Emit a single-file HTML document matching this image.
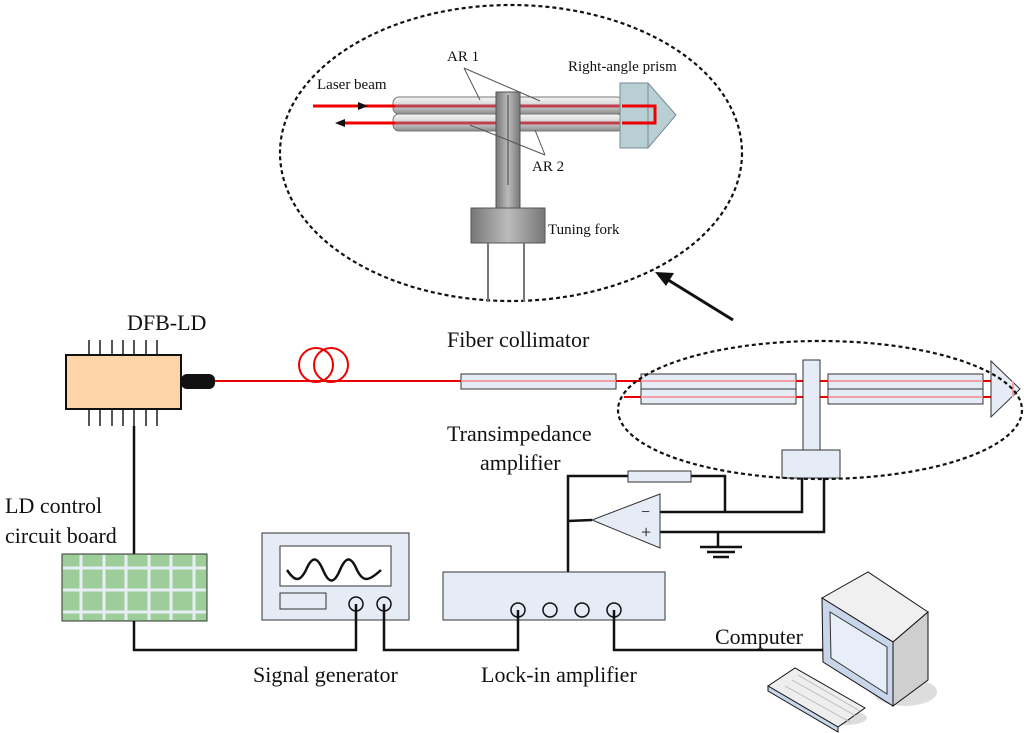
<!DOCTYPE html>
<html><head><meta charset="utf-8"><style>
html,body{margin:0;padding:0;background:#fff;}
svg{display:block;}
text{font-family:"Liberation Serif",serif;fill:#111;}
</style></head><body>
<svg width="1024" height="733" viewBox="0 0 1024 733" xmlns="http://www.w3.org/2000/svg">
<defs>
<linearGradient id="tg" x1="0" y1="0" x2="0" y2="1"><stop offset="0" stop-color="#f6f6f6"/><stop offset="0.5" stop-color="#d4d4d4"/><stop offset="1" stop-color="#8a8a8a"/></linearGradient>
<linearGradient id="fg" x1="0" y1="0" x2="1" y2="0"><stop offset="0" stop-color="#777"/><stop offset="0.5" stop-color="#bbb"/><stop offset="1" stop-color="#777"/></linearGradient>
</defs>
<ellipse cx="511" cy="153" rx="231" ry="148" fill="none" stroke="#111" stroke-width="2.2" stroke-dasharray="4,3"/>
<line x1="733" y1="320" x2="665" y2="278" stroke="#111" stroke-width="3"/>
<polygon points="655,272 674,273 666,286" fill="#111"/>
<rect x="393" y="97" width="230" height="17" rx="6" fill="url(#tg)" stroke="#777"/>
<rect x="393" y="114" width="230" height="17" rx="6" fill="url(#tg)" stroke="#777"/>
<line x1="395" y1="106" x2="622" y2="106" stroke="#c04050" stroke-width="3"/>
<line x1="395" y1="123" x2="622" y2="123" stroke="#c04050" stroke-width="3"/>
<line x1="313" y1="106" x2="395" y2="106" stroke="#e00" stroke-width="3"/>
<line x1="338" y1="123" x2="395" y2="123" stroke="#e00" stroke-width="3"/>
<polygon points="358,102 368,106 358,110" fill="#111"/>
<polygon points="345,119 335,123 345,127" fill="#111"/>
<rect x="496" y="92" width="24" height="120" fill="url(#fg)" stroke="#555"/>
<line x1="508" y1="95" x2="508" y2="185" stroke="#444"/>
<rect x="471" y="208" width="74" height="35" fill="url(#fg)" stroke="#555"/>
<line x1="488" y1="243" x2="488" y2="302" stroke="#777" stroke-width="2"/>
<line x1="524" y1="243" x2="524" y2="302" stroke="#777" stroke-width="2"/>
<polygon points="620,83 648,83 676,115 648,148 620,148" fill="#b8d0d4" stroke="#789"/>
<line x1="648" y1="83" x2="648" y2="148" stroke="#789"/>
<polyline points="622,106 655,106 655,123 622,123" fill="none" stroke="#e00" stroke-width="3"/>
<line x1="464" y1="68" x2="480" y2="100" stroke="#555"/>
<line x1="464" y1="68" x2="540" y2="101" stroke="#555"/>
<line x1="470" y1="125" x2="545" y2="155" stroke="#555"/>
<line x1="535" y1="130" x2="545" y2="155" stroke="#555"/>
<text x="317" y="89" font-size="15">Laser beam</text>
<text x="447" y="61" font-size="15">AR 1</text>
<text x="532" y="171" font-size="15">AR 2</text>
<text x="568" y="71" font-size="15">Right-angle prism</text>
<text x="548" y="234" font-size="15">Tuning fork</text>
<text x="127" y="330" font-size="22">DFB-LD</text>
<g stroke="#555" stroke-width="2">
<line x1="89" y1="340" x2="89" y2="426"/><line x1="100" y1="340" x2="100" y2="426"/><line x1="112" y1="340" x2="112" y2="426"/><line x1="123" y1="340" x2="123" y2="426"/><line x1="134" y1="340" x2="134" y2="426"/><line x1="146" y1="340" x2="146" y2="426"/><line x1="157" y1="340" x2="157" y2="426"/>
</g>
<rect x="66" y="355" width="115" height="54" fill="#fdd5a8" stroke="#111" stroke-width="2"/>
<rect x="181" y="374" width="34" height="15" rx="6" fill="#111"/>
<line x1="215" y1="381" x2="461" y2="381" stroke="#e00" stroke-width="2"/>
<circle cx="316" cy="365" r="17" fill="none" stroke="#e00" stroke-width="2"/>
<circle cx="331" cy="365" r="17" fill="none" stroke="#e00" stroke-width="2"/>
<line x1="134" y1="426" x2="134" y2="555" stroke="#111" stroke-width="2.5"/>
<text x="447" y="347" font-size="22">Fiber collimator</text>
<rect x="461" y="374" width="155" height="15" fill="#e6ecf6" stroke="#333"/>
<line x1="461" y1="381" x2="616" y2="381" stroke="#f3a0a8" stroke-width="2"/>
<line x1="616" y1="381" x2="642" y2="381" stroke="#e00" stroke-width="2"/>
<line x1="624" y1="397" x2="642" y2="397" stroke="#e00" stroke-width="2"/>
<rect x="641" y="374" width="155" height="15" fill="#e6ecf6" stroke="#333"/>
<rect x="641" y="389" width="155" height="15" fill="#e6ecf6" stroke="#333"/>
<rect x="828" y="374" width="155" height="15" fill="#e6ecf6" stroke="#333"/>
<rect x="828" y="389" width="155" height="15" fill="#e6ecf6" stroke="#333"/>
<g stroke="#f3a0a8" stroke-width="2"><line x1="641" y1="381" x2="983" y2="381"/><line x1="641" y1="397" x2="983" y2="397"/></g>
<g stroke="#e00" stroke-width="2"><line x1="796" y1="381" x2="828" y2="381"/><line x1="796" y1="397" x2="828" y2="397"/><line x1="983" y1="381" x2="991" y2="381"/><line x1="983" y1="397" x2="991" y2="397"/></g>
<polygon points="991,361 1020,389 991,417" fill="#e6ecf6" stroke="#333"/>
<line x1="1013" y1="381" x2="1013" y2="397" stroke="#f3a0a8" stroke-width="2"/>
<rect x="803" y="360" width="17" height="90" fill="#e6ecf6" stroke="#333"/>
<rect x="782" y="450" width="58" height="28" fill="#e6ecf6" stroke="#333"/>
<ellipse cx="820" cy="410" rx="202" ry="69" fill="none" stroke="#111" stroke-width="2.2" stroke-dasharray="4,3"/>
<text x="447" y="441" font-size="22">Transimpedance</text>
<text x="480" y="470" font-size="22">amplifier</text>
<g stroke="#111" stroke-width="2.5" fill="none">
<polyline points="568,572 568,476 725,476 725,512"/>
<polyline points="660,512 802,512 802,478"/>
<polyline points="660,532 824,532 824,478"/>
<line x1="568" y1="521" x2="592" y2="520"/>
<line x1="718" y1="532" x2="718" y2="547"/>
<line x1="700" y1="547" x2="742" y2="547"/>
<line x1="707" y1="552" x2="735" y2="552"/>
<line x1="713" y1="557" x2="729" y2="557"/>
</g>
<rect x="628" y="471" width="63" height="11" fill="#e6ecf6" stroke="#333"/>
<polygon points="592,520 660,494 660,548" fill="#e6ecf6" stroke="#333"/>
<text x="641" y="517" font-size="16">−</text>
<text x="641" y="538" font-size="18">+</text>
<text x="5" y="513" font-size="22">LD control</text>
<text x="5" y="543" font-size="22">circuit board</text>
<rect x="62" y="554" width="145" height="67" fill="#9dcd98" stroke="#333"/>
<g stroke="#e8eef6" stroke-width="3">
<line x1="81" y1="555" x2="81" y2="620"/><line x1="104" y1="555" x2="104" y2="620"/><line x1="126" y1="555" x2="126" y2="620"/><line x1="149" y1="555" x2="149" y2="620"/><line x1="171" y1="555" x2="171" y2="620"/><line x1="194" y1="555" x2="194" y2="620"/>
<line x1="63" y1="568" x2="206" y2="568"/><line x1="63" y1="590" x2="206" y2="590"/><line x1="63" y1="612" x2="206" y2="612"/>
</g>
<rect x="262" y="533" width="147" height="87" fill="#e6ecf6" stroke="#333"/>
<rect x="280" y="546" width="111" height="40" fill="#fff" stroke="#333"/>
<path d="M287,570 C295,582 300,582 306,570 C312,556 317,556 323,570 C329,584 334,584 340,570 C346,556 351,556 357,570 C363,582 368,582 381,570" fill="none" stroke="#111" stroke-width="2.5"/>
<rect x="280" y="593" width="46" height="16" fill="#e6ecf6" stroke="#333"/>
<circle cx="356" cy="604" r="7" fill="none" stroke="#111" stroke-width="1.5"/>
<circle cx="384" cy="604" r="7" fill="none" stroke="#111" stroke-width="1.5"/>
<rect x="443" y="572" width="222" height="48" fill="#e6ecf6" stroke="#333"/>
<g fill="none" stroke="#111" stroke-width="1.5">
<circle cx="518" cy="610" r="7"/><circle cx="550" cy="610" r="7"/><circle cx="582" cy="610" r="7"/><circle cx="614" cy="610" r="7"/>
</g>
<g stroke="#111" stroke-width="2.5" fill="none">
<polyline points="134,621 134,650 356,650 356,604"/>
<polyline points="384,604 384,650 518,650 518,610"/>
<polyline points="614,610 614,650 828,650"/>
</g>
<text x="253" y="682" font-size="22">Signal generator</text>
<text x="481" y="682" font-size="22">Lock-in amplifier</text>
<text x="715" y="644" font-size="22">Computer</text>
<ellipse cx="905" cy="692" rx="32" ry="14" fill="#ddd"/>
<polygon points="822,598 868,572 928,612 893,642" fill="#f0f0f0" stroke="#111"/>
<polygon points="893,642 928,612 928,680 893,706" fill="#cfcfcf" stroke="#111"/>
<polygon points="822,598 893,642 893,706 823,662" fill="#c9d6ea" stroke="#111"/>
<polygon points="830,612 887,647 887,694 831,658" fill="#e8eef8" stroke="#333"/>
<ellipse cx="845" cy="718" rx="22" ry="7" fill="#ddd"/>
<polygon points="768,686 795,668 865,708 838,727" fill="#eee" stroke="#111"/>
<polygon points="768,686 838,727 838,732 768,691" fill="#c9d6ea" stroke="#111"/>
<g stroke="#bbb" stroke-width="1">
<line x1="785" y1="686" x2="850" y2="722"/><line x1="792" y1="680" x2="856" y2="716"/><line x1="798" y1="675" x2="860" y2="711"/>
</g>
</svg>
</body></html>
